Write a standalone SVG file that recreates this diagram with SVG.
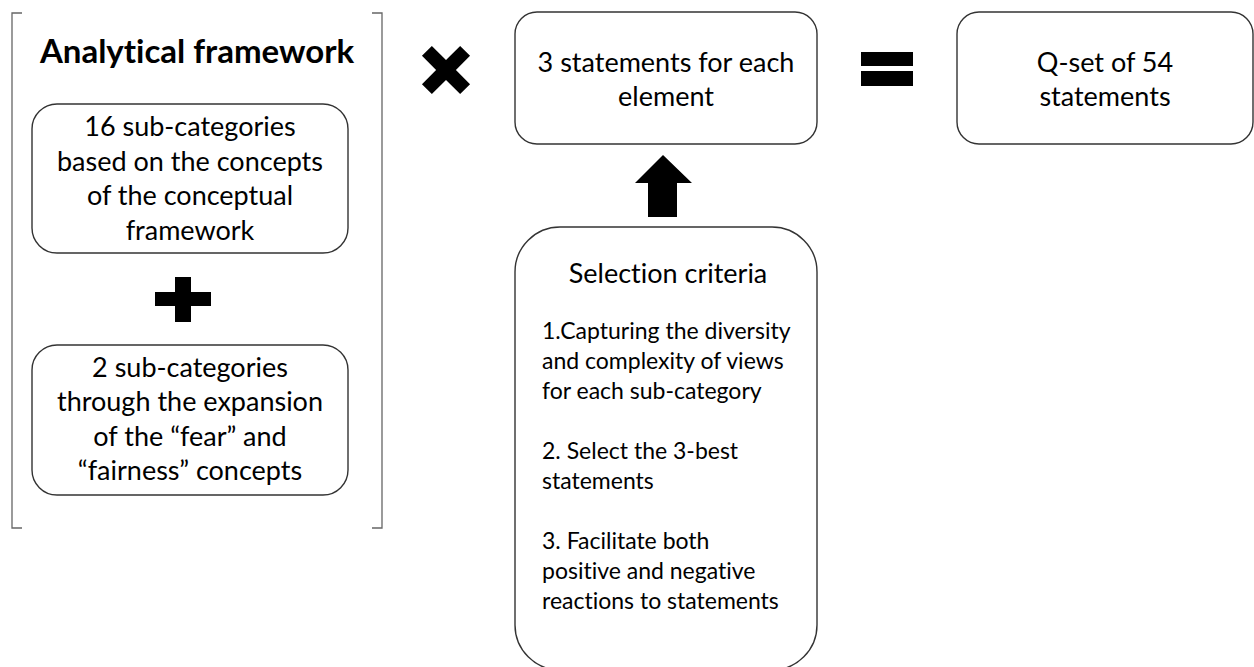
<svg xmlns="http://www.w3.org/2000/svg" width="1254" height="667" viewBox="0 0 1254 667">
  <style>
    .box { fill: #ffffff; stroke: #333333; stroke-width: 1.4; }
    .bracket { fill: none; stroke: #666666; stroke-width: 1.3; }
    .sym { fill: #000000; }
    text { font-family: Lato, "Liberation Sans", sans-serif; fill: #000000; font-variant-ligatures: none; }
    .t { font-size: 27px; text-anchor: middle; }
    .title { font-size: 33px; font-weight: bold; text-anchor: middle; }
    .item { font-size: 23px; }
  </style>

  <rect width="1254" height="667" fill="#ffffff"/>

  <!-- Analytical framework bracket -->
  <g id="framework">
    <path class="bracket" d="M22,13 H12 V528 H22"/>
    <path class="bracket" d="M372,13 H382 V528 H372"/>
    <text class="title" x="197" y="63">Analytical framework</text>
  </g>

  <g id="subcat16">
    <rect class="box" x="32" y="104" width="316" height="149" rx="25"/>
    <text class="t" x="190" y="136">16 sub-categories</text>
    <text class="t" x="190" y="170.5">based on the concepts</text>
    <text class="t" x="190" y="205">of the conceptual</text>
    <text class="t" x="190" y="239.5">framework</text>
  </g>

  <g id="subcat2">
    <rect class="box" x="32" y="345" width="316" height="150" rx="25"/>
    <text class="t" x="190" y="377">2 sub-categories</text>
    <text class="t" x="190" y="411">through the expansion</text>
    <text class="t" x="190" y="445.5">of the “fear” and</text>
    <text class="t" x="190" y="480">“fairness” concepts</text>
  </g>

  <g id="statements">
    <rect class="box" x="515" y="12" width="302" height="132" rx="22"/>
    <text class="t" x="666" y="72">3 statements for each</text>
    <text class="t" x="666" y="106">element</text>
  </g>

  <g id="criteria">
    <rect class="box" x="515" y="227" width="302" height="443" rx="45"/>
    <text class="t" x="668" y="283">Selection criteria</text>
    <text class="item" x="542" y="339">1.Capturing the diversity</text>
    <text class="item" x="542" y="369">and complexity of views</text>
    <text class="item" x="542" y="399">for each sub-category</text>
    <text class="item" x="542" y="459">2. Select the 3-best</text>
    <text class="item" x="542" y="489">statements</text>
    <text class="item" x="542" y="549">3. Facilitate both</text>
    <text class="item" x="542" y="579">positive and negative</text>
    <text class="item" x="542" y="609">reactions to statements</text>
  </g>

  <g id="qset">
    <rect class="box" x="957" y="12" width="296" height="132" rx="22"/>
    <text class="t" x="1105" y="72">Q-set of 54</text>
    <text class="t" x="1105" y="106">statements</text>
  </g>

  <!-- operators and the block arrow -->
  <g id="connectors">
    <!-- plus -->
    <path class="sym" d="M175,277 H191 V292 H211 V306 H191 V322 H175 V306 H155 V292 H175 Z"/>
    <!-- times -->
    <path class="sym" transform="translate(446,70) rotate(45)" d="M-7,-27 H7 V-7 H27 V7 H7 V27 H-7 V7 H-27 V-7 H-7 Z"/>
    <!-- equals -->
    <rect class="sym" x="861" y="52" width="52" height="14"/>
    <rect class="sym" x="861" y="71" width="52" height="15"/>
    <!-- up arrow from criteria to statements -->
    <path class="sym" d="M663,155 L692,183 H677 V217 H648 V183 H635 Z"/>
  </g>
</svg>
